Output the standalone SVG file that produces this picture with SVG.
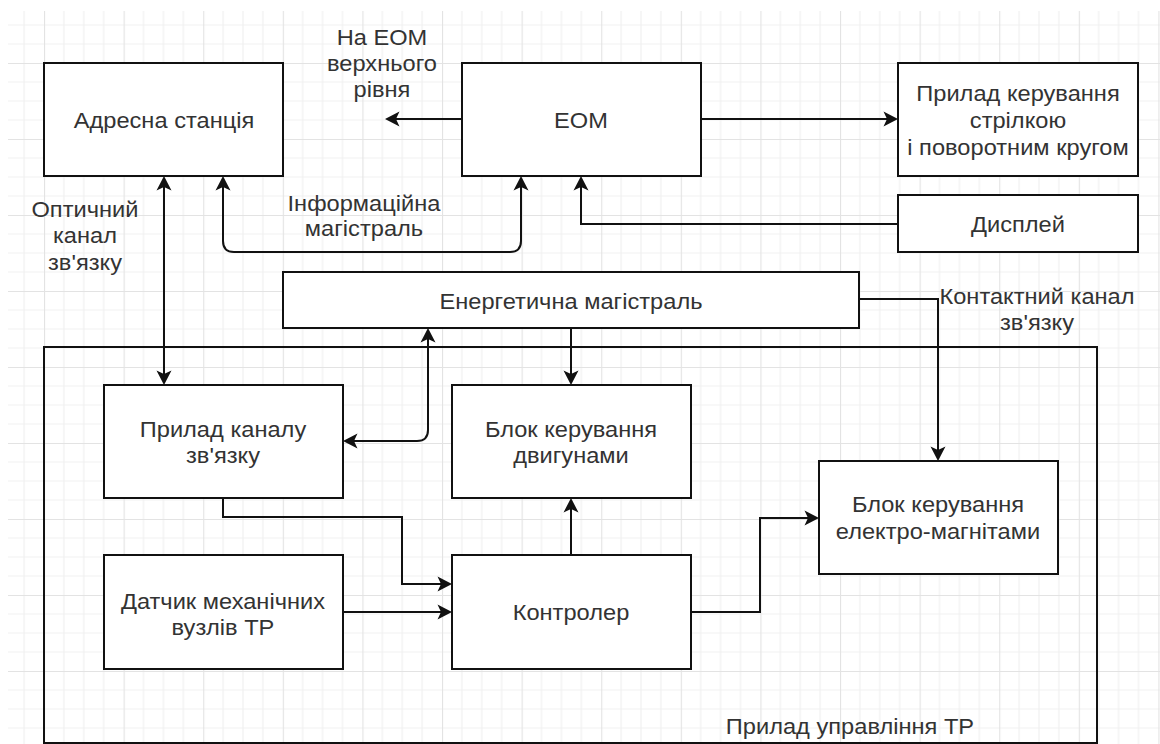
<svg xmlns="http://www.w3.org/2000/svg" width="1160" height="744" viewBox="0 0 1160 744">
  <style>
    .box { fill: #ffffff; stroke: #111111; stroke-width: 2; }
    .frame { fill: none; stroke: #111111; stroke-width: 2; }
    .wire { fill: none; stroke: #111111; stroke-width: 2; }
    .arrow { marker-end: url(#head); }
    .both { marker-start: url(#head); marker-end: url(#head); }
    text { font-family: "Liberation Sans", Arial, Helvetica, sans-serif; font-size: 22px; fill: #333333; text-anchor: middle;
           transform-box: fill-box; transform-origin: center; transform: scaleX(1.075); }
  </style>
  <defs>
    <!-- drafting grid: major cell split into 4 minor cells -->
    <pattern id="grid" patternUnits="userSpaceOnUse" x="44" y="63" width="79.6" height="76">
      <path d="M19.9,0 V76 M39.8,0 V76 M59.7,0 V76 M0,19 H79.6 M0,38 H79.6 M0,57 H79.6" stroke="#f1f1f1" stroke-width="1.2" fill="none"/>
      <path d="M0.5,0 V76 M0,0.5 H79.6" stroke="#e3e3e3" stroke-width="1.2" fill="none"/>
    </pattern>
    <!-- classic notched arrowhead, tip 10px past the path end -->
    <marker id="head" markerUnits="userSpaceOnUse" viewBox="-6 -9 18 18" refX="0" refY="0" markerWidth="18" markerHeight="18" orient="auto-start-reverse">
      <path d="M10,0 L-4.5,-7.5 L-1,0 L-4.5,7.5 Z" fill="#111111"/>
    </marker>
  </defs>

  <rect x="0" y="0" width="1160" height="744" fill="#ffffff"/>
  <rect x="8" y="11" width="1152" height="733" fill="url(#grid)"/>

  <!-- outer device frame -->
  <g id="prylad-upravlinnia">
    <rect class="frame" x="44" y="347" width="1053" height="396"/>
    <text x="850" y="734">Прилад управління ТР</text>
  </g>

  <g id="connectors">
    <path class="wire arrow" d="M462,119 H395"/>
    <path class="wire arrow" d="M701,119 H888"/>
    <path class="wire arrow" d="M898,224 H581 V186"/>
    <path class="wire both" d="M223,186 V241 Q223,252 234,252 H510 Q521,252 521,241 V186"/>
    <path class="wire both" d="M164,186 V375"/>
    <path class="wire both" d="M428,338 V430 Q428,441 417,441 H353"/>
    <path class="wire arrow" d="M571,328 V375"/>
    <path class="wire arrow" d="M859,299 H938 V451"/>
    <path class="wire arrow" d="M223,498 V517 H402 V584 H442"/>
    <path class="wire arrow" d="M343,612 H442"/>
    <path class="wire arrow" d="M571,555 V508"/>
    <path class="wire arrow" d="M691,612 H760 V518 H809"/>
  </g>

  <g id="labels">
    <text x="382" y="45">На ЕОМ</text>
    <text x="382" y="71">верхнього</text>
    <text x="382" y="97">рівня</text>
    <text x="85" y="217">Оптичний</text>
    <text x="85" y="243">канал</text>
    <text x="85" y="270">зв'язку</text>
    <text x="364" y="211">Інформаційна</text>
    <text x="364" y="236">магістраль</text>
    <text x="1037" y="304">Контактний канал</text>
    <text x="1037" y="330">зв'язку</text>
  </g>

  <g id="adresna-stantsiia">
    <rect class="box" x="44" y="63" width="239" height="113"/>
    <text x="164" y="128">Адресна станція</text>
  </g>

  <g id="eom">
    <rect class="box" x="462" y="63" width="239" height="113"/>
    <text x="581" y="128">ЕОМ</text>
  </g>

  <g id="prylad-keruvannia">
    <rect class="box" x="898" y="63" width="240" height="113"/>
    <text x="1018" y="101.5">Прилад керування</text>
    <text x="1018" y="128.3">стрілкою</text>
    <text x="1018" y="155">і поворотним кругом</text>
  </g>

  <g id="dysplei">
    <rect class="box" x="898" y="195" width="240" height="57"/>
    <text x="1018" y="232">Дисплей</text>
  </g>

  <g id="enerhetychna-mahistral">
    <rect class="box" x="283" y="272" width="576" height="56"/>
    <text x="571" y="309">Енергетична магістраль</text>
  </g>

  <g id="prylad-kanalu">
    <rect class="box" x="104" y="385" width="239" height="113"/>
    <text x="223" y="437">Прилад каналу</text>
    <text x="223" y="463">зв'язку</text>
  </g>

  <g id="blok-dvyhuny">
    <rect class="box" x="452" y="385" width="239" height="113"/>
    <text x="571" y="437">Блок керування</text>
    <text x="571" y="463">двигунами</text>
  </g>

  <g id="blok-elektromahnity">
    <rect class="box" x="819" y="461" width="239" height="113"/>
    <text x="938" y="512">Блок керування</text>
    <text x="938" y="539">електро-магнітами</text>
  </g>

  <g id="datchyk">
    <rect class="box" x="104" y="555" width="239" height="114"/>
    <text x="223" y="609">Датчик механічних</text>
    <text x="223" y="635">вузлів ТР</text>
  </g>

  <g id="kontroler">
    <rect class="box" x="452" y="555" width="239" height="114"/>
    <text x="571" y="620">Контролер</text>
  </g>
</svg>
